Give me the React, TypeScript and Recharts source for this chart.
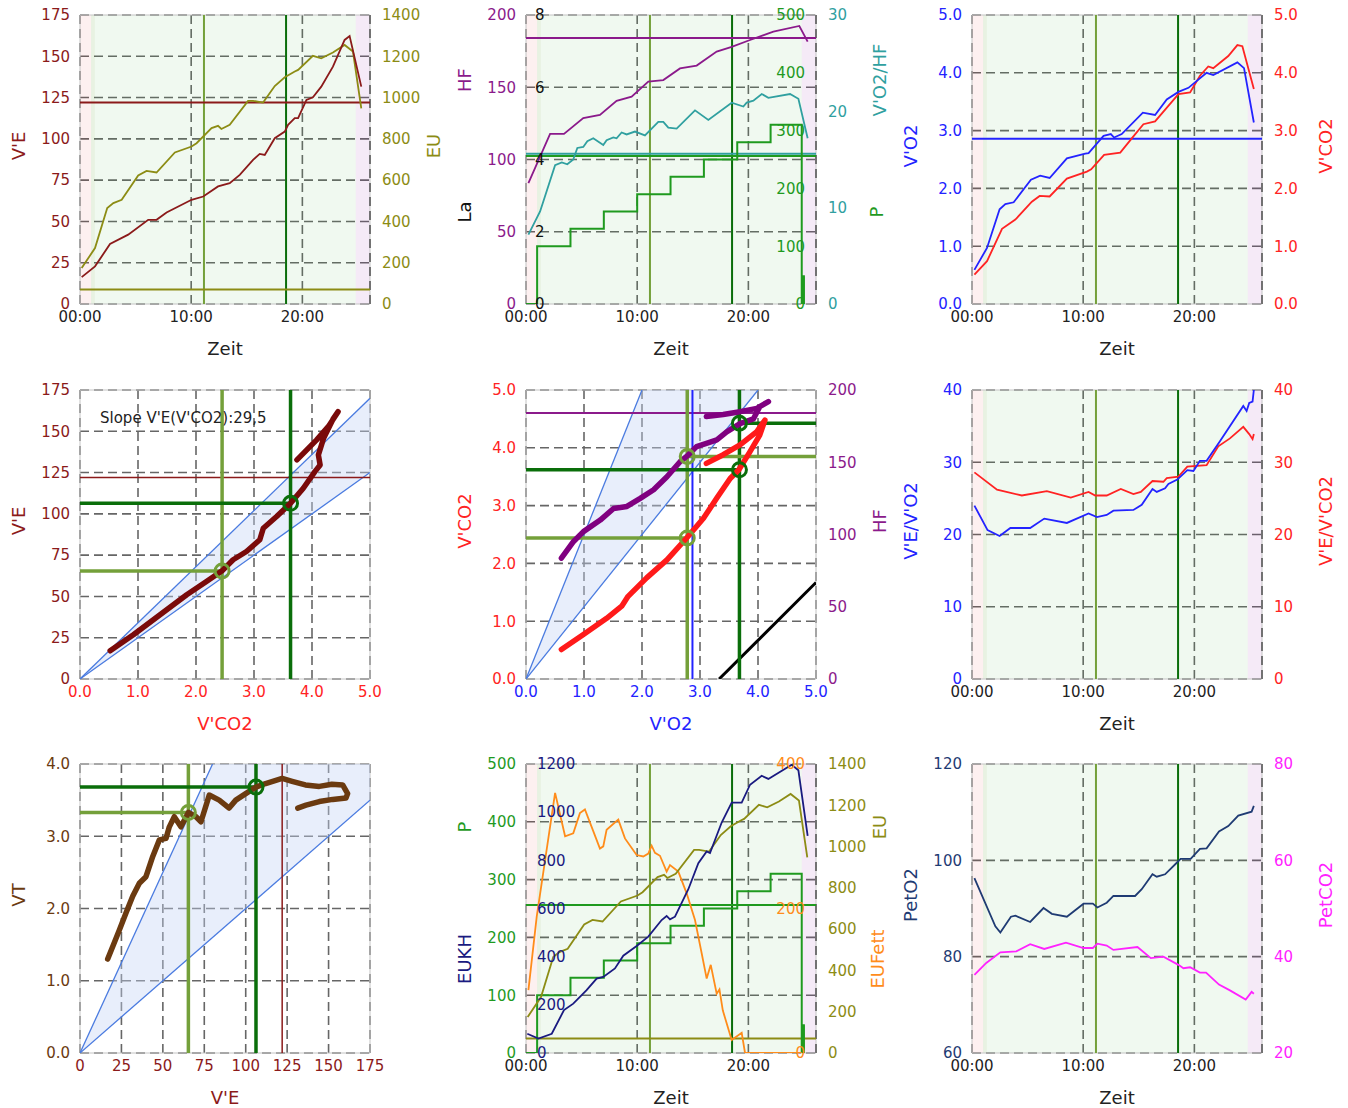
import React from "react";
import {
  ComposedChart,
  Line,
  Area,
  XAxis,
  YAxis,
  CartesianGrid,
  ReferenceArea,
  ReferenceLine,
  ReferenceDot,
} from "recharts";

const FONT = "'DejaVu Sans', Verdana, sans-serif";

// colours
const DKRED = "#8b1a1a";
const OLIVE = "#8c8c14";
const VT1 = "#74a03a";
const VT2 = "#0a6e0a";
const PGREEN = "#1f9a1f";
const PURPLE = "#8b1a8b";
const TEAL = "#30a0a0";
const BLUE = "#2323ff";
const RED = "#ff2323";
const NAVY = "#1a1a80";
const PETO2 = "#1f3b73";
const MAGENTA = "#ff22ff";
const ORANGE = "#ff8c1a";
const BROWN = "#6b3a10";
const WEDGE = "#4a7be0";
const GRID = "#666";

// time axis, seconds
const T_MAX = 1565;
const TIME_TICKS = [0, 600, 1200];
const VT1_T = 669;
const VT2_T = 1112;
// phase bands (translucent so the grid stays visible)
const PHASES = [
  { from: 0, to: 60, fill: "#e03030", op: 0.07 },
  { from: 60, to: 80, fill: "#4a9a20", op: 0.13 },
  { from: 80, to: 1488, fill: "#5cb85c", op: 0.09 },
  { from: 1488, to: T_MAX, fill: "#9b30b0", op: 0.1 },
];

// time series [t (s), value]
const VE = [[9,16.3],[81,22.8],[162,36.3],[260,42],[368,51],[413,51],[467,55.4],[602,63.1],[665,65.1],[745,71.2],[808,73.2],[862,78.2],[934,87.3],[970,90.9],[997,90.3],[1051,100.4],[1105,104.4],[1123,108.5],[1159,112.5],[1177,112.5],[1222,123.6],[1257,125.2],[1302,131.6],[1365,143.7],[1428,159.9],[1455,162.3],[1518,131.6]];
const EU = [[9,174],[81,271],[147,465],[180,489],[225,505],[314,623],[359,645],[413,637],[512,734],[602,763],[629,779],[710,852],[745,863],[763,848],[808,868],[907,984],[934,984],[988,976],[1051,1056],[1105,1098],[1159,1126],[1177,1134],[1257,1202],[1302,1190],[1365,1218],[1428,1255],[1473,1223],[1518,948]];
const HF = [[13,83.6],[130,117.7],[205,117.7],[309,128.6],[399,130.9],[489,140.6],[570,143.5],[660,153.9],[741,155],[831,163],[921,165],[1029,174.7],[1110,178],[1209,182.7],[1335,188.5],[1475,192.4],[1520,181.6]];
const VO2_HF = [[13,7.2],[76,9.6],[157,14.4],[193,14.7],[223,14.5],[255,15],[277,16.2],[309,16.3],[331,16.9],[363,17.2],[417,16.5],[435,17],[471,17.3],[489,17.2],[516,17.8],[543,17.6],[588,17.9],[642,17.5],[714,18.9],[741,18.9],[768,18.3],[813,18.2],[912,20.1],[984,19.1],[1110,20.9],[1173,20.5],[1191,20.9],[1227,21.1],[1272,21.8],[1308,21.4],[1425,21.8],[1470,21.3],[1520,17.2]];
const P = [[0,0],[60,100],[240,130],[420,160],[600,190],[780,220],[960,250],[1140,280],[1320,310],[1488,0],[1492,48],[1494,0],[1496,48],[1498,0],[1500,48],[1505,48]];
const VO2 = [[13,0.59],[81,0.97],[149,1.64],[180,1.73],[225,1.76],[318,2.15],[368,2.22],[419,2.18],[512,2.52],[611,2.6],[629,2.61],[710,2.91],[749,2.94],[767,2.88],[808,2.94],[922,3.31],[988,3.27],[1051,3.54],[1114,3.67],[1168,3.74],[1266,4.0],[1302,3.96],[1432,4.18],[1468,4.08],[1521,3.14]];
const VCO2 = [[13,0.51],[81,0.74],[162,1.3],[234,1.46],[323,1.77],[365,1.87],[419,1.86],[512,2.17],[620,2.29],[643,2.33],[713,2.58],[800,2.62],[871,2.9],[925,3.11],[988,3.16],[1114,3.63],[1177,3.66],[1230,3.95],[1275,4.11],[1302,4.08],[1383,4.29],[1432,4.48],[1459,4.46],[1521,3.72]];
const EQ_O2 = [[13,24],[84,20.6],[149,19.8],[207,20.9],[314,20.9],[390,22.2],[512,21.6],[629,22.9],[674,22.4],[727,22.7],[763,23.3],[871,23.4],[916,24.1],[974,26.3],[997,25.9],[1042,26.4],[1060,27],[1108,27.6],[1162,28.9],[1195,28.8],[1230,30.2],[1266,30.2],[1338,32.9],[1464,37.8],[1482,37.1],[1496,38.2],[1514,38.4],[1521,40]];
const EQ_CO2 = [[13,28.6],[135,26.2],[269,25.4],[404,26],[533,25.1],[629,25.9],[665,25.4],[727,25.4],[803,26.3],[871,25.6],[911,25.9],[974,27.4],[1033,27.3],[1051,27.8],[1114,28],[1162,29.4],[1266,29.6],[1329,32.2],[1392,33.3],[1464,34.9],[1496,33.9],[1514,33.2],[1521,33.9]];
const EUKH = [[7,80],[67,60],[139,80],[205,178],[255,205],[327,261],[381,309],[417,316],[480,351],[525,404],[597,444],[660,483],[732,552],[759,569],[777,555],[804,566],[876,680],[930,788],[975,837],[993,830],[1056,957],[1110,1040],[1164,1040],[1209,1114],[1272,1151],[1308,1138],[1434,1197],[1470,1174],[1520,902]];
const EUFETT = [[13,87],[58,189],[157,360],[211,300],[255,304],[291,332],[318,337],[363,307],[399,283],[417,286],[435,309],[498,323],[534,297],[597,274],[633,272],[660,276],[678,287],[696,277],[723,273],[759,251],[777,260],[822,251],[867,221],[912,184],[948,138],[975,103],[997,122],[1029,82],[1044,88],[1062,59],[1110,18],[1164,28],[1182,0],[1488,0]];
const PET_O2 = [[13,96.3],[126,86.3],[153,85],[210,88.3],[234,88.5],[314,87.2],[386,90.1],[431,88.9],[512,88.3],[602,91],[652,91],[677,90.2],[727,91.2],[763,92.6],[880,92.6],[916,94],[974,97.1],[997,96.6],[1042,97.1],[1105,99.5],[1126,100.3],[1180,100.3],[1230,102.4],[1266,102.5],[1333,106],[1383,107.1],[1437,109.3],[1509,110.1],[1521,111.3]];
const PET_CO2 = [[13,36.2],[77,38.7],[153,40.9],[239,41.1],[314,42.6],[390,41.6],[507,42.9],[602,41.8],[652,41.8],[677,42.7],[727,42.3],[763,41.4],[893,42],[965,39.7],[1033,40],[1114,38.3],[1141,37.6],[1177,37.8],[1230,36.7],[1263,36.7],[1333,34.2],[1392,33],[1477,31.1],[1509,32.7],[1521,32.3]];

// x-y loops
const VE_VS_VCO2 = [[0.52,17.1],[0.92,26.8],[1.38,38.9],[1.84,51],[2.18,59],[2.45,65.5],[2.64,72.2],[2.87,77.2],[3.1,84.3],[3.16,91.3],[3.39,98.4],[3.63,106.4],[3.85,115.5],[4.05,125.6],[4.14,129.6],[4.11,135.7],[4.2,145.8],[4.37,157.9],[4.45,161.9],[4.28,152.8],[4.08,144.8],[3.91,138.7],[3.74,132.7]];
const VCO2_VS_VO2 = [[0.61,0.51],[0.99,0.77],[1.39,1.05],[1.65,1.26],[1.76,1.43],[2.08,1.75],[2.43,2.06],[2.77,2.44],[3.06,2.78],[3.29,3.13],[3.52,3.47],[3.67,3.62],[3.86,3.93],[4.03,4.22],[4.12,4.48],[3.98,4.28],[3.69,4.05],[3.4,3.88],[3.11,3.73]];
const HF_VS_VO2 = [[0.61,83.6],[0.82,95.2],[0.99,102],[1.28,110],[1.51,118],[1.74,119.4],[1.97,125],[2.2,131],[2.43,140],[2.66,150.5],[2.77,154],[2.94,160.8],[3.11,163],[3.29,165.5],[3.46,171],[3.69,176.7],[3.92,180],[4.03,188.5],[4.18,192],[3.98,187.3],[3.69,185],[3.4,183],[3.11,181.6]];
const VT_VS_VE = [[16.7,1.3],[19.7,1.47],[23.7,1.7],[27.8,1.94],[31.8,2.17],[35.8,2.35],[39.8,2.44],[43.9,2.72],[47.9,2.95],[51.9,2.97],[53.9,3.13],[56.9,3.27],[60.9,3.13],[65.4,3.33],[70,3.27],[73,3.2],[78,3.57],[84,3.5],[90,3.39],[94,3.5],[100,3.59],[106.2,3.68],[112,3.73],[122,3.8],[128,3.76],[136,3.71],[144.4,3.69],[152,3.72],[158.5,3.71],[161.5,3.59],[160.5,3.53],[152.5,3.51],[144.4,3.48],[136.4,3.43],[131.4,3.39]];

// wedge guides [x, low, high]
const WEDGE_VE = [[0,0,0],[5,125,170]];
const WEDGE_VCO2 = [[0,0,0],[2,2.5,5],[4,5,5]];
const WEDGE_VT = [[0,0,0],[80,1.6,4],[175,3.5,4]];
const BLACK_LINE = [[3.33,0],[5,1.67]];

// thresholds
const VE_MAX = 122;
const EU_REF = 70;
const HF_MAX = 184;
const P_REF = 256;
const VO2HF_REF = 15.6;
const VO2_MAX = 2.86;

const rows = (pairs: number[][]) => pairs.map(([t, v]) => ({ t, v }));
const ranges = (pairs: number[][]) => pairs.map(([t, lo, hi]) => ({ t, r: [lo, hi] }));
const fmtTime = (s: number) =>
  `${String(Math.floor(s / 60)).padStart(2, "0")}:${String(s % 60).padStart(2, "0")}`;
const fmt1 = (v: number) => v.toFixed(1);
const tick = (fill: string) => ({ fill, fontSize: 15, fontFamily: FONT });

const W = 446;
const H = 370;
const MARGIN = { top: 15, right: 0, left: 0, bottom: 0 };
// scatter panels have no right axis, keep the same plot box
const MARGIN_XY = { top: 15, right: 76, left: 0, bottom: 0 };

const yTitle = (text: string, color: string, x: number, y: number) => () => (
  <text
    x={x}
    y={y}
    transform={`rotate(-90 ${x} ${y})`}
    textAnchor="middle"
    dominantBaseline="central"
    fill={color}
    fontSize={18}
    fontFamily={FONT}
  >
    {text}
  </text>
);

const xTitle = (text: string, color: string) => () => (
  <text x={225} y={348} textAnchor="middle" dominantBaseline="central" fill={color} fontSize={18} fontFamily={FONT}>
    {text}
  </text>
);

const axisCommon = {
  tickLine: false,
  axisLine: false,
  interval: 0 as const,
  allowDataOverflow: true,
  tickSize: 0,
};

const timeAxis = () => (
  <XAxis
    type="number"
    dataKey="t"
    domain={[0, T_MAX]}
    ticks={TIME_TICKS}
    tickFormatter={fmtTime}
    height={66}
    tickMargin={7}
    tick={tick("#222")}
    label={xTitle("Zeit", "#222")}
    {...axisCommon}
  />
);

const phaseBands = () =>
  PHASES.map((p) => (
    <ReferenceArea key={`ph${p.from}`} x1={p.from} x2={p.to} fill={p.fill} fillOpacity={p.op} stroke="none" />
  ));

const frame = (x2: number) => (
  <ReferenceArea key="frame" x1={0} x2={x2} fill="none" stroke="#c4c4c4" strokeWidth={1} />
);

const grid = () => <CartesianGrid stroke={GRID} strokeDasharray="9 5" strokeWidth={1.6} />;

const thresholdTimes = () => [
  <ReferenceLine key="vt1" x={VT1_T} stroke={VT1} strokeWidth={2} />,
  <ReferenceLine key="vt2" x={VT2_T} stroke={VT2} strokeWidth={2} />,
  <ReferenceLine key="edge" x={T_MAX} stroke={GRID} strokeDasharray="9 5" strokeWidth={1.6} />,
];

const line = (data: number[][], color: string, yAxisId: string | number = 0, width = 1.8) => (
  <Line
    data={rows(data)}
    dataKey="v"
    yAxisId={yAxisId}
    stroke={color}
    strokeWidth={width}
    dot={false}
    type="linear"
    isAnimationActive={false}
  />
);

const loop = (data: number[][], color: string, yAxisId: string | number = 0) => (
  <Line
    data={rows(data)}
    dataKey="v"
    yAxisId={yAxisId}
    stroke={color}
    strokeWidth={5.5}
    strokeLinecap="round"
    strokeLinejoin="round"
    dot={false}
    type="linear"
    isAnimationActive={false}
  />
);

const wedge = (data: number[][], upper: number[][], lower: number[][]) => [
  <Area key="wa" data={ranges(data)} dataKey="r" stroke="none" fill="#c6d5f5" fillOpacity={0.4} isAnimationActive={false} />,
  <Line key="wu" data={rows(upper)} dataKey="v" stroke={WEDGE} strokeWidth={1.3} dot={false} type="linear" isAnimationActive={false} />,
  <Line key="wl" data={rows(lower)} dataKey="v" stroke={WEDGE} strokeWidth={1.3} dot={false} type="linear" isAnimationActive={false} />,
];

const ring = (x: number, y: number, color: string, yAxisId: string | number = 0) => (
  <ReferenceDot x={x} y={y} yAxisId={yAxisId} r={7} fill="none" stroke={color} strokeWidth={3} />
);

// ---------- panels ----------

function PanelVE() {
  return (
    <ComposedChart width={W} height={H} margin={MARGIN}>
      {timeAxis()}
      <YAxis domain={[0, 175]} ticks={[0, 25, 50, 75, 100, 125, 150, 175]} width={80} tickMargin={10} tick={tick(DKRED)} label={yTitle("V'E", DKRED, 18, 146)} {...axisCommon} />
      <YAxis yAxisId="eu" orientation="right" domain={[0, 1400]} ticks={[0, 200, 400, 600, 800, 1000, 1200, 1400]} width={76} tickMargin={12} tick={tick(OLIVE)} label={yTitle("EU", OLIVE, 433, 146)} {...axisCommon} />
      {phaseBands()}
      {grid()}
      {frame(T_MAX)}
      {thresholdTimes()}
      <ReferenceLine y={VE_MAX} stroke={DKRED} strokeWidth={2} />
      <ReferenceLine y={EU_REF} yAxisId="eu" stroke={OLIVE} strokeWidth={2} />
      {line(EU, OLIVE, "eu")}
      {line(VE, DKRED)}
    </ComposedChart>
  );
}

function PanelHF() {
  return (
    <ComposedChart width={W} height={H} margin={MARGIN}>
      {timeAxis()}
      <YAxis domain={[0, 200]} ticks={[0, 50, 100, 150, 200]} width={80} tickMargin={10} tick={tick(PURPLE)} label={yTitle("HF", PURPLE, 18, 80)} {...axisCommon} />
      <YAxis yAxisId="la" mirror domain={[0, 8]} ticks={[0, 2, 4, 6, 8]} width={30} tickMargin={9} tick={tick("#111")} label={yTitle("La", "#111", 18, 212)} {...axisCommon} />
      <YAxis yAxisId="q" orientation="right" domain={[0, 30]} ticks={[0, 10, 20, 30]} width={76} tickMargin={12} tick={tick(TEAL)} label={yTitle("V'O2/HF", TEAL, 433, 80)} {...axisCommon} />
      <YAxis yAxisId="p" orientation="right" mirror domain={[0, 500]} ticks={[0, 100, 200, 300, 400, 500]} width={40} tickMargin={11} tick={tick(PGREEN)} label={yTitle("P", PGREEN, 430, 212)} {...axisCommon} />
      {phaseBands()}
      {grid()}
      {frame(T_MAX)}
      {thresholdTimes()}
      <ReferenceLine y={HF_MAX} stroke={PURPLE} strokeWidth={2} />
      <ReferenceLine y={P_REF} yAxisId="p" stroke={PGREEN} strokeWidth={2} />
      <ReferenceLine y={VO2HF_REF} yAxisId="q" stroke={TEAL} strokeWidth={2} />
      <Line data={rows(P)} dataKey="v" yAxisId="p" stroke={PGREEN} strokeWidth={2} dot={false} type="stepAfter" isAnimationActive={false} />
      {line(VO2_HF, TEAL, "q")}
      {line(HF, PURPLE)}
    </ComposedChart>
  );
}

function PanelGas() {
  return (
    <ComposedChart width={W} height={H} margin={MARGIN}>
      {timeAxis()}
      <YAxis domain={[0, 5]} ticks={[0, 1, 2, 3, 4, 5]} tickFormatter={fmt1} width={80} tickMargin={10} tick={tick(BLUE)} label={yTitle("V'O2", BLUE, 18, 146)} {...axisCommon} />
      <YAxis yAxisId="r" orientation="right" domain={[0, 5]} ticks={[0, 1, 2, 3, 4, 5]} tickFormatter={fmt1} width={76} tickMargin={12} tick={tick(RED)} label={yTitle("V'CO2", RED, 433, 146)} {...axisCommon} />
      {phaseBands()}
      {grid()}
      {frame(T_MAX)}
      {thresholdTimes()}
      <ReferenceLine y={VO2_MAX} stroke={BLUE} strokeWidth={2} />
      {line(VCO2, RED, "r")}
      {line(VO2, BLUE)}
    </ComposedChart>
  );
}

function PanelVEvsVCO2() {
  return (
    <ComposedChart width={W} height={H} margin={MARGIN_XY}>
      <XAxis type="number" dataKey="t" domain={[0, 5]} ticks={[0, 1, 2, 3, 4, 5]} tickFormatter={fmt1} height={66} tickMargin={7} tick={tick(RED)} label={xTitle("V'CO2", RED)} {...axisCommon} />
      <YAxis domain={[0, 175]} ticks={[0, 25, 50, 75, 100, 125, 150, 175]} width={80} tickMargin={10} tick={tick(DKRED)} label={yTitle("V'E", DKRED, 18, 146)} {...axisCommon} />
      {grid()}
      {frame(5)}
      {wedge(WEDGE_VE, [[0, 0], [5, 170]], [[0, 0], [5, 125]])}
      <ReferenceLine y={VE_MAX} stroke={DKRED} strokeWidth={1.5} />
      <ReferenceLine x={2.45} stroke={VT1} strokeWidth={3.5} />
      <ReferenceLine segment={[{ x: 0, y: 65.4 }, { x: 2.45, y: 65.4 }]} stroke={VT1} strokeWidth={3.5} />
      <ReferenceLine x={3.63} stroke={VT2} strokeWidth={3.5} />
      <ReferenceLine segment={[{ x: 0, y: 106.4 }, { x: 3.63, y: 106.4 }]} stroke={VT2} strokeWidth={3.5} />
      {loop(VE_VS_VCO2, "#7a0a0a")}
      {ring(2.45, 65.4, VT1)}
      {ring(3.63, 106.4, VT2)}
      <ReferenceDot
        x={0.35}
        y={158}
        r={0}
        fill="none"
        stroke="none"
        label={() => (
          <text x={100} y={43} dominantBaseline="central" fill="#222" fontSize={15} fontFamily={FONT}>
            Slope V'E(V'CO2):29,5
          </text>
        )}
      />
    </ComposedChart>
  );
}

function PanelVslope() {
  return (
    <ComposedChart width={W} height={H} margin={MARGIN}>
      <XAxis type="number" dataKey="t" domain={[0, 5]} ticks={[0, 1, 2, 3, 4, 5]} tickFormatter={fmt1} height={66} tickMargin={7} tick={tick(BLUE)} label={xTitle("V'O2", BLUE)} {...axisCommon} />
      <YAxis domain={[0, 5]} ticks={[0, 1, 2, 3, 4, 5]} tickFormatter={fmt1} width={80} tickMargin={10} tick={tick(RED)} label={yTitle("V'CO2", RED, 18, 146)} {...axisCommon} />
      <YAxis yAxisId="hf" orientation="right" domain={[0, 200]} ticks={[0, 50, 100, 150, 200]} width={76} tickMargin={12} tick={tick(PURPLE)} label={yTitle("HF", PURPLE, 433, 146)} {...axisCommon} />
      {grid()}
      {frame(5)}
      {wedge(WEDGE_VCO2, [[0, 0], [2, 5]], [[0, 0], [4, 5]])}
      {line(BLACK_LINE, "#000", 0, 3)}
      <ReferenceLine y={HF_MAX} yAxisId="hf" stroke={PURPLE} strokeWidth={2} />
      <ReferenceLine x={2.78} stroke={VT1} strokeWidth={3.5} />
      <ReferenceLine x={2.87} stroke={BLUE} strokeWidth={2} />
      <ReferenceLine x={3.68} stroke={VT2} strokeWidth={3.5} />
      <ReferenceLine segment={[{ x: 0, y: 2.44 }, { x: 2.78, y: 2.44 }]} stroke={VT1} strokeWidth={3.5} />
      <ReferenceLine yAxisId="hf" segment={[{ x: 2.78, y: 154 }, { x: 5, y: 154 }]} stroke={VT1} strokeWidth={3.5} />
      <ReferenceLine segment={[{ x: 0, y: 3.62 }, { x: 3.68, y: 3.62 }]} stroke={VT2} strokeWidth={3.5} />
      <ReferenceLine yAxisId="hf" segment={[{ x: 3.68, y: 177 }, { x: 5, y: 177 }]} stroke={VT2} strokeWidth={3.5} />
      {loop(VCO2_VS_VO2, "#ff1a1a")}
      {loop(HF_VS_VO2, "#800080", "hf")}
      {ring(2.78, 2.44, VT1)}
      {ring(2.78, 154, VT1, "hf")}
      {ring(3.68, 3.62, VT2)}
      {ring(3.68, 177, VT2, "hf")}
    </ComposedChart>
  );
}

function PanelEq() {
  return (
    <ComposedChart width={W} height={H} margin={MARGIN}>
      {timeAxis()}
      <YAxis domain={[0, 40]} ticks={[0, 10, 20, 30, 40]} width={80} tickMargin={10} tick={tick(BLUE)} label={yTitle("V'E/V'O2", BLUE, 18, 146)} {...axisCommon} />
      <YAxis yAxisId="r" orientation="right" domain={[0, 40]} ticks={[0, 10, 20, 30, 40]} width={76} tickMargin={12} tick={tick(RED)} label={yTitle("V'E/V'CO2", RED, 433, 146)} {...axisCommon} />
      {phaseBands()}
      {grid()}
      {frame(T_MAX)}
      {thresholdTimes()}
      {line(EQ_CO2, RED, "r")}
      {line(EQ_O2, BLUE)}
    </ComposedChart>
  );
}

function PanelVT() {
  return (
    <ComposedChart width={W} height={H} margin={MARGIN_XY}>
      <XAxis type="number" dataKey="t" domain={[0, 175]} ticks={[0, 25, 50, 75, 100, 125, 150, 175]} height={66} tickMargin={7} tick={tick(DKRED)} label={xTitle("V'E", DKRED)} {...axisCommon} />
      <YAxis domain={[0, 4]} ticks={[0, 1, 2, 3, 4]} tickFormatter={fmt1} width={80} tickMargin={10} tick={tick(BROWN)} label={yTitle("VT", BROWN, 18, 146)} {...axisCommon} />
      {grid()}
      {frame(175)}
      {wedge(WEDGE_VT, [[0, 0], [80, 4]], [[0, 0], [175, 3.5]])}
      <ReferenceLine x={65.4} stroke={VT1} strokeWidth={3.5} />
      <ReferenceLine x={106.2} stroke={VT2} strokeWidth={3.5} />
      <ReferenceLine x={VE_MAX} stroke={DKRED} strokeWidth={1.5} />
      <ReferenceLine segment={[{ x: 0, y: 3.33 }, { x: 65.4, y: 3.33 }]} stroke={VT1} strokeWidth={3.5} />
      <ReferenceLine segment={[{ x: 0, y: 3.68 }, { x: 106.2, y: 3.68 }]} stroke={VT2} strokeWidth={3.5} />
      {loop(VT_VS_VE, BROWN)}
      {ring(65.4, 3.33, VT1)}
      {ring(106.2, 3.68, VT2)}
    </ComposedChart>
  );
}

function PanelEnergy() {
  return (
    <ComposedChart width={W} height={H} margin={MARGIN}>
      {timeAxis()}
      <YAxis domain={[0, 500]} ticks={[0, 100, 200, 300, 400, 500]} width={80} tickMargin={10} tick={tick(PGREEN)} label={yTitle("P", PGREEN, 18, 78)} {...axisCommon} />
      <YAxis yAxisId="kh" mirror domain={[0, 1200]} ticks={[0, 200, 400, 600, 800, 1000, 1200]} width={40} tickMargin={11} tick={tick(NAVY)} label={yTitle("EUKH", NAVY, 18, 210)} {...axisCommon} />
      <YAxis yAxisId="eu" orientation="right" domain={[0, 1400]} ticks={[0, 200, 400, 600, 800, 1000, 1200, 1400]} width={76} tickMargin={12} tick={tick(OLIVE)} label={yTitle("EU", OLIVE, 433, 78)} {...axisCommon} />
      <YAxis yAxisId="fett" orientation="right" mirror domain={[0, 400]} ticks={[0, 200, 400]} width={40} tickMargin={11} tick={tick(ORANGE)} label={yTitle("EUFett", ORANGE, 431, 210)} {...axisCommon} />
      {phaseBands()}
      {grid()}
      {frame(T_MAX)}
      {thresholdTimes()}
      <ReferenceLine y={P_REF} stroke={PGREEN} strokeWidth={2} />
      <ReferenceLine y={EU_REF} yAxisId="eu" stroke={OLIVE} strokeWidth={2} />
      <Line data={rows(P)} dataKey="v" stroke={PGREEN} strokeWidth={2} dot={false} type="stepAfter" isAnimationActive={false} />
      {line(EUFETT, ORANGE, "fett")}
      {line(EU, OLIVE, "eu")}
      {line(EUKH, NAVY, "kh")}
    </ComposedChart>
  );
}

function PanelPet() {
  return (
    <ComposedChart width={W} height={H} margin={MARGIN}>
      {timeAxis()}
      <YAxis domain={[60, 120]} ticks={[60, 80, 100, 120]} width={80} tickMargin={10} tick={tick(PETO2)} label={yTitle("PetO2", PETO2, 18, 146)} {...axisCommon} />
      <YAxis yAxisId="r" orientation="right" domain={[20, 80]} ticks={[20, 40, 60, 80]} width={76} tickMargin={12} tick={tick(MAGENTA)} label={yTitle("PetCO2", MAGENTA, 433, 146)} {...axisCommon} />
      {phaseBands()}
      {grid()}
      {frame(T_MAX)}
      {thresholdTimes()}
      {line(PET_CO2, MAGENTA, "r")}
      {line(PET_O2, PETO2)}
    </ComposedChart>
  );
}

const PANELS = [
  [PanelVE, PanelHF, PanelGas],
  [PanelVEvsVCO2, PanelVslope, PanelEq],
  [PanelVT, PanelEnergy, PanelPet],
];
const ROW_TOP = [0, 375, 749];
const COL_LEFT = [0, 446, 892];

export default function App() {
  return (
    <div style={{ position: "absolute", left: 0, top: 0, width: 1348, height: 1108, background: "#fff", fontFamily: FONT }}>
      {PANELS.map((row, r) =>
        row.map((Panel, c) => (
          <div key={`${r}-${c}`} style={{ position: "absolute", left: COL_LEFT[c], top: ROW_TOP[r], width: W, height: H }}>
            <Panel />
          </div>
        ))
      )}
    </div>
  );
}
